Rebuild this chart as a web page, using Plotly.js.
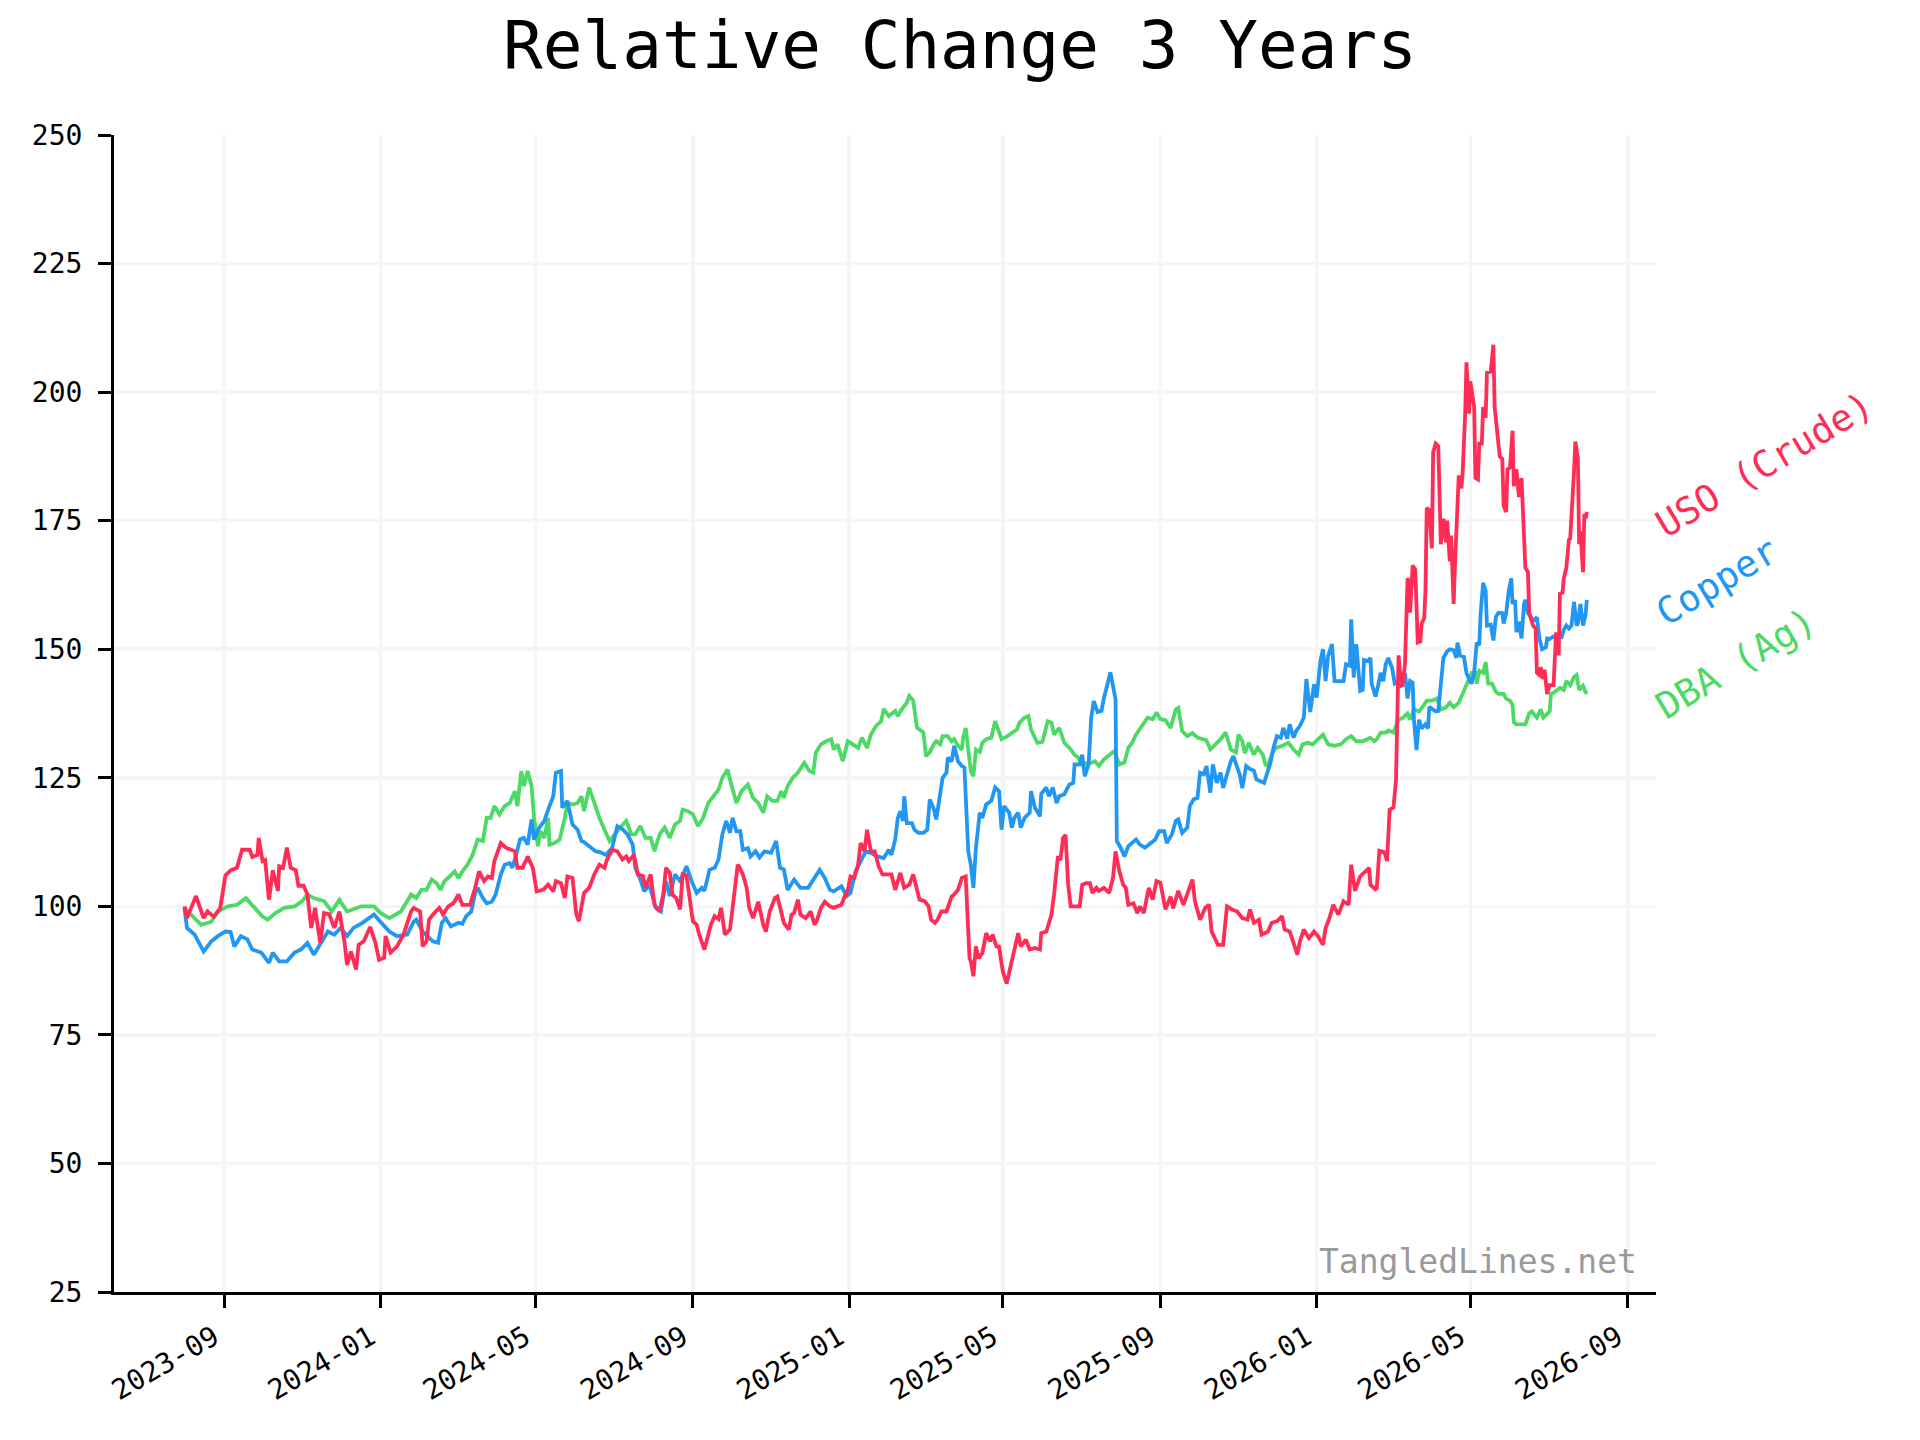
<!DOCTYPE html>
<html>
<head>
<meta charset="utf-8">
<script src="https://cdn.plot.ly/plotly-3.0.1.min.js"></script>
<style>
  html, body { margin: 0; padding: 0; background: #fff; }
  #chart { width: 1920px; height: 1440px; }
</style>
</head>
<body>
<div id="chart"></div>
<script>
// days counted from 2023-07-31, values are relative change (start = 100)
var startDay = '2023-07-31';

var usoDays = [
  1,3,10,16,19,24,29,33,37,42, 46,52,54,58,59,62,64,67,70,74, 75,78,81,84,88,90,94,97,100,103,
  107,110,114,118,122,126,128,131,135,137, 141,146,150,153,157,158,162,167,172,178, 180,
  182,185,187,190,192,195,200,203,207,211, 215,218,224,228,231,235,238,241,243,248,
  252,259,261,265,269,273,276,281,285,289, 291,295,298,300,304,307,309,313,317,321,
  325,329,331,335,339,343,346,348,352,355, 359,361,365,
  368,372,375,377,380,382,385,388,390,393, 395,398,401,403,407,410,412,415,418,420,
  423,427,429,433,434,437,440,442,445,449, 453,455,458,462,464,467,469,473,475,477,
  480,482,486,490,493,495,498,501,505,508, 514,516,519,521,524,527,529,532,534,537, 540,543,546,550,
  553,556,560,563,567,570,573,575,579,582, 584,587,589,592,596,600,602,605,608,611,
  614,615,617,619,621,624,627,630,632,635, 637,640,643,645,649,652,654,658,661,665,
  669,670,674,678,680,683,685,687,689,691, 693,697,700,702,705,708,710,713,715,719, 723,726,728,731,734,
  736,738,742,745,747,750,754,757,760,763, 767,771,773,777,781,785,788,790,794,798,
  801,803,808,812,815,819,823,827,831,833, 836,840,842,847,850,854,858,860,864,867,
  870,872,875,879,883,886,890,892,895,898, 902,906,910,912,915,
  919,923,926,927,931,932,934,938,940,942, 945,947,948,949,951,952,954,956,957,958,
  960,962,964,966,967,969,970,971,973,975, 976,978,980,982,984,986,987,989,990,992,
  993,995,996,998,999,1001,1002,1004,1005,1008, 1009,1011,1012,1014,1015,1017,1018,1021,1023,1024,
  1026,1028,1030,1031,1033,1034,1036,1038,1039,1041, 1043,1045,1048,1050,1051,1054,1056,1057,1059,1060,
  1062,1063,1065,1067,1070,1072,1074,1075,1077,1078, 1080,1082,1083,1085,1086,1087,1089,1090,1091,1093,
  1094,1095,1096
];
var usoVals = [
  100,97.7,102,97.7,99,98,99.7,106,107,107.5, 111,111,109.6,110,113.3,108.8,109,101.3,107,103, 107.8,107.5,111.4,107.5,107,104,104,102.3,95.8,99.7,
  92.9,98.7,98.5,95.8,99,93,88.6,91.2,87.7,92.5, 93.2,96,93,89.6,90,94.2,91,92.2,94.5,99, 99.7,
  99.4,99,92.2,93.2,97.4,98.4,99.7,98.4,100,100.6, 102.3,100.3,100.3,103.6,106.8,104.9,105.8,105.5,108.8,112.3,
  111.4,110.7,107.5,107.5,109.7,107.5,102.9,103.2,104.2,102.9, 104.9,104.5,101.6,105.8,105.5,98.4,97.1,102.6,103.6,106.2,
  108.1,107.5,109.1,111,110.7,109.1,109.7,108.8,110,106.2, 105.9,103.6,106.2,
  100.3,99,102.6,107.5,106.5,102.3,101.6,99.4,106.2,106, 102.3,97.1,96.4,94.5,91.6,94.8,96.4,98.1,97.5,99.7,
  94.5,95.5,99.7,108.1,107.8,106.2,103.6,99.7,97.7,100.9, 96.4,95.1,99,101.6,101.9,98.4,96.8,95.5,98.4,98.7,
  101.3,98.4,97.7,99,96.4,97.4,99.7,100.9,100,99.7, 100.3,101.6,103.2,105.8,105.5,108.1,112.3,110.7,114.9,110.7, 110.7,107.8,106.2,106.2,
  106.2,103.2,106.5,103.6,104.2,106.2,103.2,101.3,101,100, 97.4,96.8,97.4,99,99,101.9,102.3,103.2,105.5,105.8,
  89.9,89.3,86.4,92.2,89.9,90.9,94.8,93.2,94.5,92.2, 92.2,87.3,85,87.3,92.2,94.8,92.2,93.5,91.6,91.9,
  91.6,94.8,95.1,98.4,102.3,109.7,109,113.3,113.9,104.2, 100,100,100,104.2,104.5,104.5,102.6,103.6,103,103.6, 102.6,105.5,110.7,106.8,104.2,
  103.6,100.3,100.6,98.7,100,98.7,103.6,101.3,104.9,104.6, 99.4,101.9,99.6,103,100.3,103.2,105.2,101,97.4,99.7,
  100.3,95.1,92.5,92.5,100,99.4,99,97.7,97.4,99.4, 96.8,97.4,94.5,95.1,96.8,97.1,98.1,95.5,95.1,92.9,
  90.6,93.2,95.5,93.8,95.1,94.2,92.5,95.8,97.7,100.3, 98.4,101,100.3,108.1,103,
  105.8,106.7,107.5,104.2,103.3,103.5,110.8,110.5,108.8,118.8, 119.2,124.6,137.1,148.8,142.9,143,147.1,163.8,163,157.1,
  166.3,165.5,151.3,151.5,155,156,161.3,177.5,177,169.6, 188.3,190,189.5,170.4,175.4,170.8,175,167.1,172.1,158.8,
  166.3,176.3,183.8,181.3,184.2,195.8,205.8,195.8,202.1,197.1, 183.3,183,190,190,197.1,195,203.8,204,209.2,197.1,
  192.5,187.5,187,177.9,176.7,185,185.3,192.5,181.7,185, 179.6,183.3,165.8,165,157.1,154.6,154,145.4,145,146.5,
  144.2,146,141.3,143,143,153.3,148.8,160.8,161,163.8, 165.8,171.3,171.5,178.8,184.6,190.4,187.1,170.4,172.9,165,
  176.3,175.4,176.7
];

var copperDays = [
  1,3,9,12,16,22,27,33,37,40, 45,50,54,61,67,70,75,81,87,92, 97,102,107,113,118,123,128,133,140,149, 154,161,167,175,180,
  182,187,191,195,199,202,205,209,215,218, 221,225,228,230,234,237,241,244,248,251,
  255,257,260,263,266,269,272,274,278,282, 285,289,291,295,296,300,304,308,311,313,
  317,322,326,330,335,339,343,347,351,353, 357,360,364,
  369,373,377,380,384,388,393,397,401,405, 407,411,415,418,421,424,427,429,432,435,
  437,441,443,447,450,454,459,463,466,469, 472,477,482,488,493,497,501,505,508,514,
  518,521,525,529,533,537,542,547,551,
  553,556,558,560,562,563,565,569,571,574, 578,581,583,586,588,591,593,596,597,600,
  602,605,608,610,613,615,617,619,622,624, 627,631,634,637,639,641,645,647,649,652,
  654,657,661,662,665,669,670,674,676,679, 682,684,688,692,695,696,700,702,704,707,
  709,711,714,717,719,722,724,726,728,729, 732,735,
  738,744,747,751,755,759,762,766,768,772, 775,777,780,784,786,789,792,794,797,799,
  802,804,807,810,812,815,818,820,823,825, 827,830,833,836,838,841,844,846,849,851,
  854,857,859,862,864,867,869,872,875,877, 880,883,885,888,890,892,894,897,899,903,
  906,908,911,912,914,916,919,
  921,922,925,927,928,931,933,935,937,939, 941,944,946,948,951,953,954,956,958,960,
  961,963,965,967,970,972,973,975,978,980, 982,984,987,989,992,994,995,997,1000,1002,
  1004,1006,1008,1010,1012,1013,1015,1017,1018,1021, 1023,1025,1027,1030,1031,1033,1035,1037,1038,1040,
  1041,1043,1045,1047,1048,1050,1052,1054,1057,1059, 1061,1064,1065,1067,1070,1074,1076,1078,1080,1082,
  1084,1086,1088,1089,1091,1093,1095,1096
];
var copperVals = [
  99.7,95.8,94.5,92.9,91.2,93.2,94.2,95.1,95,92.2, 94.2,93.6,91.6,91,89,91,89.3,89.3,91,91.6, 92.9,90.6,92.5,95.1,94.5,95.8,94.2,95.8,96.8,98.4, 97,95.1,94.2,94.5,97,
  97.4,95.1,94.2,93.2,92.9,96.8,97.7,96.1,96.8,96.6, 98.1,99,102.6,103.6,101.6,100.6,100.9,102.3,106.2,108.1,
  108.4,107.5,110,113,113.3,112,116.9,113,115.3,116.6, 118.8,121.4,126,126.3,119.2,120.5,115.9,114.9,112.7,112.5,
  111.7,110.7,110.5,110,111.4,115.6,115,114,112,107.5, 105.2,102.9,104.2,
  99.7,99,104.9,102,106.2,104.9,107.8,104.9,102.6,103.6, 103,107.1,107.5,109.1,114,116.6,114.3,117.2,114.6,114.6,
  111,111.3,109.7,110.7,109.5,110.7,110.4,112.7,107.5,107.2, 103.2,105.2,103.6,103.6,105.5,107.1,105.5,103.2,102.9,103.9,
  102,102.6,106.8,108.8,110.7,110.4,109.7,109.4,111,
  110,113,117.2,118.5,116.6,121.4,116.2,116.2,114.9,114.3, 114.3,114.9,120.8,119,116.9,122.4,125,126,128.9,128.2,
  131.2,128.2,127.3,127,110.7,108.1,103.6,111.4,118.2,117.2, 119.8,120.5,123.1,122.4,114.9,119.5,118.2,115.3,117.2,118.2,
  115.3,117.2,118.2,122.4,119.2,117.5,121.9,123.1,121.4,123.1, 120.1,121.4,121.8,123.7,124,127.6,127.6,129.5,125.3,127.6,
  136.7,139.9,137.8,138,140.6,143.5,145.5,142.9,140.3,112.7, 111.4,109.7,
  111.7,113,112,111.4,112.3,113,114.6,114.6,112.3,114, 116.6,116.9,114.3,115.3,119.5,120.8,121.1,126,125.7,127.3,
  122.1,127.6,124,126,123,125.5,128.2,129.2,127.3,125.6, 123,127.3,126.7,126.4,124.7,124.4,124,125.6,127.9,130.5,
  133.1,132.8,134.7,132.6,135.4,132.8,134.1,135.1,136.7,144.2, 137.8,143.2,140.6,147.7,150,143.8,148.7,151,143.8,143.8,
  143.8,147.1,146.8,155.8,144.5,151,141.9,
  142.1,147.9,147.7,148.3,143.3,140.8,142.9,145.4,143.8,147.1, 148.3,146.3,143.3,143.5,144.6,144,145.4,140.4,143.8,143.5,
  136.3,130.4,136.3,134.6,135.4,134.6,138.8,138.5,137.9,138, 142.9,148.3,149.6,150,149.8,148.3,151.3,148.8,148.5,145.4,
  144.2,143.3,145.4,151.3,150.8,156.7,162.9,161.3,154.6,154.8, 151.7,156.3,157.1,157,155,157,161.3,163.8,158.8,159.5,
  153.3,155.4,152.1,158.8,159.6,157.1,156.3,155.5,156.2,152.1, 150,150.4,152.1,152,152.5,152.8,152.1,153.8,154.6,154,
  154.6,159.2,154.6,155,158.8,154.6,156.7,159.6
];

var dbaDays = [
  1,6,14,22,27,35,42,49,54,62, 66,72,79,87,93,97,102,110,116,122, 128,139,149,154,161,170,178,
  182,186,190,194,198,201,204,208,212,215, 218,222,226,230,234,237,240,243,247,251,
  255,259,261,264,266,269,272,274,277,279, 282,285,286,290,294,298,300,304,308,311,
  313,317,321,325,329,333,337,341,346,350, 353,357,361,365,
  368,372,376,380,384,388,390,394,398,402, 406,410,414,418,421,425,428,432,436,441,
  445,449,453,456,460,464,467,469,472,476, 480,485,489,492,494,498,502,506,508,511,
  515,519,523,527,530,534,537,541,545,547, 551,
  556,558,561,565,567,570,573,575,578,580, 583,586,588,591,593,597,600,602,605,608,
  609,611,613,615,617,619,622,624,627,631, 634,636,639,643,647,651,653,657,660,662,
  665,667,671,675,678,680,684,688,692,696, 699,702,706,709,712,715,719,723,727,731, 735,
  738,741,744,746,750,753,757,760,763,767, 771,775,777,780,784,788,792,795,799,802,
  806,810,814,818,822,824,827,829,832,836, 839,843,845,847,850,853,857,860,863,867,
  871,874,878,882,886,890,894,899,904,908, 912,916,
  921,925,927,930,932,935,939,941,945,949, 952,956,958,961,965,969,971,975,979,982,
  986,989,992,996,999,1001,1004,1006,1009,1010, 1012,1015,1017,1019,1022,1025,1027,1031,1033,1036,
  1038,1039,1041,1045,1048,1051,1053,1057,1060,1062, 1065,1067,1068,1071,1075,1078,1080,1083,1086,1088,
  1090,1093,1095,1096
];
var dbaVals = [
  99.7,98.4,96.4,97,99,100,100.3,101.6,100.3,98, 97.4,98.7,99.7,100,101,102.3,101.6,101,99,101.3, 99,100,100,98.7,97.7,99,102.3,
  101.6,103.2,103.2,105.2,104.5,103.2,104.9,105.8,106.8,105.5, 106.8,108.1,110,113,112.7,117.2,117.2,119.5,117.9,119.5,
  120.1,122.4,119.5,126.3,123.4,126.3,123.4,117.2,111.7,114.6, 113.3,117.2,112,112.3,113,117.2,120.1,119.8,120.1,121.4,
  118.5,123.1,120.1,117.2,114.9,112.7,114,115.3,116.6,114, 114,115.6,113.3,113.3,
  110.7,114,115.3,113.3,115.9,116.6,118.8,118.5,117.9,115.6, 117.2,120.1,121.4,122.7,125,126.6,123.7,120.1,122.4,123.7,
  121.1,120.1,118.2,121.4,120.5,120.5,122.4,121.1,123.4,125, 126,127.9,126.3,126,129.9,131.5,132.1,132.5,130.5,131.5,
  128.2,132.1,131.5,130.8,132.8,130.8,133.4,135.1,136,138.4, 137,
  138,137,138.3,139.6,140.9,140,134.7,134.4,133.8,129.2, 130,131.5,132.1,131.5,133.1,133.1,132.1,132.5,131.2,130.5,
  132.8,134.7,130.2,126.3,125.3,130.5,130,131.8,132.5,132.8, 136,134.4,132.5,133,133.8,134.4,135.7,136.7,137,134.4,
  132.8,131.8,132,136,135.7,133.4,134.7,131.8,130.8,129.5, 128.9,127.6,127.9,127.9,128.2,127.3,128.6,129.5,130.2,127.6, 128,
  130.8,131.8,133.4,134.1,135.4,136.7,136.4,137.7,136.4,136.2, 134.7,138.3,138.6,134.1,133.1,133.7,132.8,132.5,132.3,130.5,
  131.5,132.5,133.8,130.5,129.9,133.4,132.1,129.8,131.8,129.5, 130.8,129.5,127.6,127.3,129.5,130.8,131.1,131.5,131.8,130.5,
  129.5,131.5,131.8,131.5,132.5,133.4,131.5,131.2,131.5,132.5, 133.1,132.1,
  132.1,132.5,132.8,132.1,132.5,133.8,133.8,134.2,133.8,136.3, 136.6,137.5,136.3,138.3,137.9,139.2,140,140,140.4,138.3,
  138.7,139.6,138.7,139.6,141.3,142.1,144.2,145.4,145.4,143.3, 145.8,145.4,147.5,143.3,143.3,141.7,141.3,141.3,140.4,140,
  139.2,135.8,135.4,135.4,135.4,137.5,137.9,136.7,138.3,136.7, 137.5,137.9,141.3,141.7,142.5,142.1,143.8,143,144.6,145,
  142.1,142.9,141.7,141.3
];

var seriesNames = ['USO (Crude)', 'Copper', 'DBA (Ag)'];
var seriesColors = ['#ff2d55', '#2196f3', '#4cd964'];

var font = 'DejaVu Sans Mono, monospace';
var t0 = Date.parse(startDay + 'T00:00:00Z');

function toDates(days) {
    return days.map(function(d) {
        return new Date(t0 + d * 86400000).toISOString().slice(0, 10);
    });
}

function last(arr) {
    return arr[arr.length - 1];
}

// green first, red drawn on top
var plotlyData = [
    {x: toDates(dbaDays), y: dbaVals, name: seriesNames[2], mode: 'lines', line: {color: seriesColors[2], width: 3.8}},
    {x: toDates(copperDays), y: copperVals, name: seriesNames[1], mode: 'lines', line: {color: seriesColors[1], width: 3.8}},
    {x: toDates(usoDays), y: usoVals, name: seriesNames[0], mode: 'lines', line: {color: seriesColors[0], width: 3.8}}
];

// end-of-line labels, rotated like the original
var endLabels = [
    [seriesNames[0], last(usoVals), seriesColors[0]],
    [seriesNames[1], last(copperVals), seriesColors[1]],
    [seriesNames[2], last(dbaVals), seriesColors[2]]
].map(function(l) {
    return {
        text: l[0], xref: 'paper', yref: 'y', x: 1, y: l[1],
        xanchor: 'left', yanchor: 'bottom', xshift: -10, yshift: -37,
        textangle: -31, showarrow: false,
        font: {family: font, size: 37, color: l[2]}
    };
});

var axisCommon = {
    showline: true, linecolor: '#000', linewidth: 3, mirror: false,
    ticks: 'outside', ticklen: 13, tickwidth: 3, tickcolor: '#000',
    showgrid: true, gridcolor: '#f5f5f5', gridwidth: 3.5,
    zeroline: false,
    tickfont: {family: font, size: 28, color: '#000'}
};

var plotlyLayout = {
    width: 1920,
    height: 1440,
    paper_bgcolor: '#fff',
    plot_bgcolor: '#fff',
    showlegend: false,
    margin: {l: 114, r: 264, t: 135, b: 148},
    title: {
        text: 'Relative Change 3 Years',
        font: {family: font, size: 66, color: '#000'},
        x: 0.5, xanchor: 'center', xref: 'container',
        y: 0.969, yanchor: 'middle', yref: 'container'
    },
    xaxis: Object.assign({}, axisCommon, {
        type: 'date',
        range: ['2023-06-07', '2026-09-23'],
        tick0: '2023-09-01',
        dtick: 'M4',
        tickformat: '%Y-%m',
        tickangle: -30,
        ticklabelshift: -10,
        ticklabelstandoff: 2
    }),
    yaxis: Object.assign({}, axisCommon, {
        range: [25, 250],
        tick0: 25,
        dtick: 25,
        ticklabelstandoff: 10
    }),
    annotations: endLabels.concat([{
        text: 'TangledLines.net', xref: 'paper', yref: 'paper',
        x: 0.989, y: 0.008, xanchor: 'right', yanchor: 'bottom',
        showarrow: false,
        font: {family: font, size: 33, color: '#999999'}
    }])
};

var plotlyConfig = {
    displayModeBar: false,
    staticPlot: true
};

Plotly.newPlot('chart', plotlyData, plotlyLayout, plotlyConfig);
</script>
</body>
</html>
